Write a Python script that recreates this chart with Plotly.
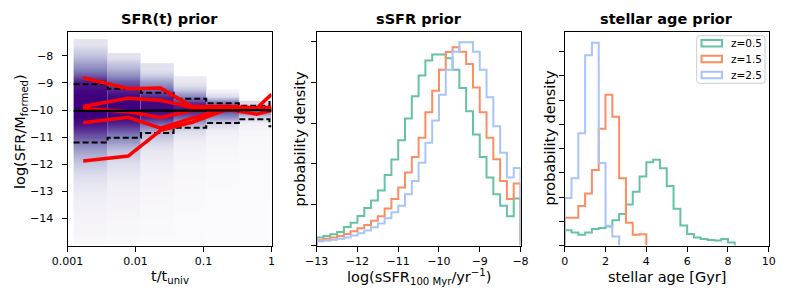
import math
import plotly.graph_objects as go

W, H = 789, 307
FONT = "DejaVu Sans"

# ---------------- Panel 1: SFR(t) prior ----------------
COL_EDGES_LOG = [-2.91, -2.41, -1.92, -1.44, -0.96, -0.48, -0.03, 0.0]
COL_TOPS = [-7.38, -7.9, -8.27, -8.75, -9.24, -9.66, -9.35]
Y_LEVELS = [-15, -14, -13, -12.5, -12, -11.5, -11, -10.75, -10.5, -10.25,
            -10, -9.75, -9.5, -9.25, -9, -8.5, -8, -7.5]
DENS_C1 = [0.04, 0.07, 0.13, 0.21, 0.32, 0.48, 0.7, 0.84, 0.94, 1.0, 1.0, 1.0, 1.0, 0.97, 0.9, 0.6, 0.36, 0.19]
DENS_C2 = [0.03, 0.05, 0.09, 0.14, 0.22, 0.35, 0.56, 0.73, 0.88, 0.98, 1.0, 1.0, 0.97, 0.88, 0.72, 0.42, 0.2, 0.1]
DENS_C3 = [0.02, 0.03, 0.05, 0.07, 0.11, 0.17, 0.3, 0.45, 0.68, 0.9, 0.98, 0.98, 0.88, 0.7, 0.48, 0.2, 0.08, 0.0]
DENS_C4 = [0.015, 0.02, 0.03, 0.04, 0.05, 0.08, 0.14, 0.25, 0.44, 0.72, 0.92, 0.88, 0.6, 0.34, 0.15, 0.05, 0.0, 0.0]
DENS_C5 = [0.01, 0.015, 0.02, 0.025, 0.03, 0.045, 0.07, 0.12, 0.25, 0.55, 0.8, 0.65, 0.25, 0.08, 0.0, 0.0, 0.0, 0.0]
DENS_C6 = [0.01, 0.01, 0.015, 0.015, 0.02, 0.025, 0.035, 0.05, 0.1, 0.3, 0.65, 0.25, 0.0, 0.0, 0.0, 0.0, 0.0, 0.0]
DENS_C7 = [0.01, 0.01, 0.015, 0.02, 0.02, 0.03, 0.04, 0.06, 0.12, 0.35, 0.6, 0.35, 0.12, 0.0, 0.0, 0.0, 0.0, 0.0]
DENSITY = [DENS_C1, DENS_C2, DENS_C3, DENS_C4, DENS_C5, DENS_C6, DENS_C7]

UPPER_Q = [-9.05, -9.21, -9.36, -9.58, -9.75, -9.84, -9.64]
LOWER_Q = [-11.2, -11.02, -10.85, -10.65, -10.48, -10.34, -10.6]
MEDIAN = [-10.03, -10.03, -10.02, -10.02, -10.01, -10.0, -10.02]

RED_T = [0.0017, 0.0078, 0.0234, 0.068, 0.2, 0.6, 1.0]
RED_A = [-8.81, -9.21, -9.19, -9.87, -9.87, -9.92, -9.9]
RED_B = [-9.87, -9.56, -9.64, -9.90, -9.88, -9.94, -9.96]
RED_C = [-9.94, -10.06, -10.27, -10.02, -9.87, -9.96, -10.0]
RED_D = [-10.47, -10.27, -10.67, -10.30, -9.96, -10.15, -10.02]
RED_E = [-11.88, -11.70, -10.75, -10.45, -10.02, -9.94, -9.42]
RED_LINES = [RED_A, RED_B, RED_C, RED_D, RED_E]

P1_YTICKS = [-14, -13, -12, -11, -10, -9, -8]
P1_XTICKS = [0.001, 0.01, 0.1, 1]
P1_XTICKTEXT = ["0.001", "0.01", "0.1", "1"]

# ---------------- Panel 2: sSFR prior ----------------
SSFR_MIN, SSFR_MAX, SSFR_NBINS = -13.0, -8.0, 30
SSFR_Z05 = [0.0195, 0.0236, 0.0276, 0.0333, 0.0455, 0.0561, 0.0724, 0.0919, 0.1106, 0.135,
            0.173, 0.211, 0.2585, 0.3114, 0.3659, 0.417, 0.4537, 0.4683, 0.4683, 0.4593,
            0.4309, 0.3862, 0.3293, 0.2724, 0.2171, 0.1667, 0.126, 0.0976, 0.0715, 0.1154]
SSFR_Z15 = [0.013, 0.0163, 0.0195, 0.0236, 0.0285, 0.035, 0.0423, 0.0504, 0.061, 0.0715,
            0.091, 0.1138, 0.1423, 0.1789, 0.2171, 0.2642, 0.3268, 0.3797, 0.4309, 0.4748,
            0.4862, 0.4756, 0.4455, 0.3878, 0.3268, 0.2642, 0.2114, 0.1585, 0.1138, 0.152]
SSFR_Z25 = [0.0106, 0.0122, 0.0138, 0.0163, 0.0195, 0.0244, 0.0301, 0.0366, 0.0447, 0.0537,
            0.0667, 0.0813, 0.0976, 0.126, 0.1585, 0.2033, 0.252, 0.3065, 0.3699, 0.4309,
            0.4756, 0.4984, 0.4984, 0.4756, 0.4309, 0.3634, 0.2927, 0.2276, 0.1667, 0.1902]
P2_XTICKS = [-13, -12, -11, -10, -9, -8]

# ---------------- Panel 3: stellar age prior ----------------
AGE_BIN_WIDTH = 1.0 / 3.0
AGE_Z05 = [0.063, 0.054, 0.044, 0.054, 0.068, 0.072, 0.078, 0.104, 0.13, 0.169, 0.222, 0.285,
           0.343, 0.354, 0.319, 0.245, 0.152, 0.083, 0.047, 0.033, 0.027, 0.023, 0.021, 0.027, 0.012]
AGE_Z15 = [0.114, 0.114, 0.163, 0.215, 0.312, 0.482, 0.622, 0.531, 0.278, 0.094, 0.044, 0.046]
AGE_Z25 = [0.196, 0.278, 0.463, 0.785, 0.837, 0.340, 0.082, 0.037]
P3_XTICKS = [0, 2, 4, 6, 8, 10]

SERIES_NAMES = ["z=0.5", "z=1.5", "z=2.5"]
SERIES_COLORS = ["#66c2a5", "#fc8d62", "#a8c4f8"]

# ---------------- layout geometry (pixels) ----------------
PANEL_X = [(67.5, 271.5), (316.7, 520.5), (564.7, 768.8)]
PANEL_TOP, PANEL_BOT = 31.5, 245.5


def px_x(p):
    return p / W


def px_y(p):
    return 1 - p / H


def minus(v):
    return f"{v:g}".replace("-", "\u2212")


fig = go.Figure()

# heatmap columns (one trace per time bin so that columns keep sharp edges)
for i in range(len(COL_TOPS)):
    left = 10 ** COL_EDGES_LOG[i]
    right = 10 ** COL_EDGES_LOG[i + 1]
    top = COL_TOPS[i]
    dens = DENSITY[i]
    idx = [k for k, lv in enumerate(Y_LEVELS)
           if k == 0 or (Y_LEVELS[k - 1] + lv) / 2 < top]
    lv_in = [Y_LEVELS[k] for k in idx]
    yedges = [Y_LEVELS[0]] + [(lv_in[j] + lv_in[j + 1]) / 2 for j in range(len(lv_in) - 1)] + [top]
    z = [[dens[k], dens[k]] for k in idx]
    fig.add_trace(go.Heatmap(
        x=[left, math.sqrt(left * right), right], y=yedges, z=z,
        zmin=0, zmax=1, colorscale="Purples", showscale=False, zsmooth="best",
        hoverinfo="skip", xaxis="x", yaxis="y"))

step_x = [10 ** e for e in COL_EDGES_LOG]
for vals in (UPPER_Q, LOWER_Q):
    fig.add_trace(go.Scatter(x=step_x, y=vals + [vals[-1]], mode="lines", line_shape="hv",
                             line=dict(color="black", width=2, dash="6px,3px"),
                             showlegend=False, hoverinfo="skip", xaxis="x", yaxis="y"))
for line in RED_LINES:
    fig.add_trace(go.Scatter(x=RED_T, y=line, mode="lines",
                             line=dict(color="#ff0000", width=3.5),
                             showlegend=False, hoverinfo="skip", xaxis="x", yaxis="y"))
fig.add_trace(go.Scatter(x=step_x, y=MEDIAN + [MEDIAN[-1]], mode="lines", line_shape="hv",
                         line=dict(color="black", width=2.2),
                         showlegend=False, hoverinfo="skip", xaxis="x", yaxis="y"))


def step_outline(edges, heights):
    n = len(heights)
    xs = [edges[0]] + edges[:n] + [edges[n]]
    ys = [0] + list(heights) + [0]
    return xs, ys


ssfr_edges = [SSFR_MIN + k * (SSFR_MAX - SSFR_MIN) / SSFR_NBINS for k in range(SSFR_NBINS + 1)]
for vals, col, name in zip([SSFR_Z05, SSFR_Z15, SSFR_Z25], SERIES_COLORS, SERIES_NAMES):
    xs, ys = step_outline(ssfr_edges, vals)
    fig.add_trace(go.Scatter(x=xs, y=ys, mode="lines", line_shape="hv", name=name,
                             line=dict(color=col, width=2), showlegend=False,
                             hoverinfo="skip", xaxis="x2", yaxis="y2"))

for vals, col, name in zip([AGE_Z05, AGE_Z15, AGE_Z25], SERIES_COLORS, SERIES_NAMES):
    edges = [k * AGE_BIN_WIDTH for k in range(len(vals) + 1)]
    xs, ys = step_outline(edges, vals)
    fig.add_trace(go.Scatter(x=xs, y=ys, mode="lines", line_shape="hv", name=name,
                             line=dict(color=col, width=2), showlegend=False,
                             hoverinfo="skip", xaxis="x3", yaxis="y3"))

axis_common = dict(showline=True, linecolor="black", linewidth=1, mirror=True,
                   ticks="outside", ticklen=5, tickwidth=1, tickcolor="black",
                   showgrid=False, zeroline=False, automargin=False,
                   tickfont=dict(family=FONT, size=11, color="black"))

ydom = [px_y(PANEL_BOT), px_y(PANEL_TOP)]
layout = dict(
    width=W, height=H, autosize=False,
    margin=dict(l=0, r=0, t=0, b=0, pad=0),
    paper_bgcolor="white", plot_bgcolor="white",
    showlegend=False,
    font=dict(family=FONT, size=11, color="black"),
    xaxis=dict(axis_common, domain=[px_x(PANEL_X[0][0]), px_x(PANEL_X[0][1])], anchor="y",
               type="log", range=[-3, 0], tickvals=P1_XTICKS, ticktext=P1_XTICKTEXT),
    yaxis=dict(axis_common, domain=ydom, anchor="x", range=[-15, -7.1],
               tickvals=P1_YTICKS, ticktext=[minus(v) for v in P1_YTICKS], ticklabelstandoff=6),
    xaxis2=dict(axis_common, domain=[px_x(PANEL_X[1][0]), px_x(PANEL_X[1][1])], anchor="y2",
                range=[SSFR_MIN, SSFR_MAX], tickvals=P2_XTICKS, ticktext=[minus(v) for v in P2_XTICKS]),
    yaxis2=dict(axis_common, domain=ydom, anchor="x2", range=[0, 0.525],
                tickvals=[0, 0.1, 0.2, 0.3, 0.4, 0.5], showticklabels=False),
    xaxis3=dict(axis_common, domain=[px_x(PANEL_X[2][0]), px_x(PANEL_X[2][1])], anchor="y3",
                range=[0, 10], tickvals=P3_XTICKS, ticktext=[str(v) for v in P3_XTICKS]),
    yaxis3=dict(axis_common, domain=ydom, anchor="x3", range=[0, 0.883],
                tickvals=[0, 0.1, 0.2, 0.3, 0.4, 0.5, 0.6, 0.7, 0.8], showticklabels=False),
)
fig.update_layout(**layout)

ann = []
titles = ["SFR(t) prior", "sSFR prior", "stellar age prior"]
xlabels = ["t/t<sub>univ</sub>", "log(sSFR<sub>100 Myr</sub>/yr<sup>\u22121</sup>)", "stellar age [Gyr]"]
ylabels = [("log(SFR/M<sub>formed</sub>)", 21, 132), ("probability density", 299, 138.5),
           ("probability density", 549, 137.5)]
for (x0, x1), t, xl in zip(PANEL_X, titles, xlabels):
    cx = (x0 + x1) / 2
    ann.append(dict(text=f"<b>{t}</b>", x=px_x(cx), y=px_y(18.5), xref="paper", yref="paper",
                    xanchor="center", yanchor="middle", showarrow=False,
                    font=dict(family=FONT, size=14.5, color="black")))
    ann.append(dict(text=xl, x=px_x(cx), y=px_y(277), xref="paper", yref="paper",
                    xanchor="center", yanchor="middle", showarrow=False,
                    font=dict(family=FONT, size=14.5, color="black")))
for txt, x, y in ylabels:
    ann.append(dict(text=txt, x=px_x(x), y=px_y(y), xref="paper", yref="paper",
                    xanchor="center", yanchor="middle", showarrow=False, textangle=-90,
                    font=dict(family=FONT, size=14.5, color="black")))

# legend (drawn manually to mimic matplotlib's outlined patches)
LX0, LX1, LY0, LY1, R = 696.7, 765.0, 35.7, 83.3, 3.0
x0, x1 = px_x(LX0), px_x(LX1)
y0, y1 = px_y(LY1), px_y(LY0)
rx, ry = R / W, R / H
path = (f"M {x0+rx},{y0} L {x1-rx},{y0} Q {x1},{y0} {x1},{y0+ry} L {x1},{y1-ry} "
        f"Q {x1},{y1} {x1-rx},{y1} L {x0+rx},{y1} Q {x0},{y1} {x0},{y1-ry} L {x0},{y0+ry} "
        f"Q {x0},{y0} {x0+rx},{y0} Z")
shapes = [dict(type="path", path=path, xref="paper", yref="paper",
               line=dict(color="#cccccc", width=1), fillcolor="rgba(255,255,255,0.8)")]
for name, col, cy in zip(SERIES_NAMES, SERIES_COLORS, [43.3, 59.0, 75.0]):
    shapes.append(dict(type="rect", xref="paper", yref="paper",
                       x0=px_x(701.5), x1=px_x(722), y0=px_y(cy + 3.3), y1=px_y(cy - 3.3),
                       line=dict(color=col, width=2), fillcolor="rgba(0,0,0,0)"))
    ann.append(dict(text=name, x=px_x(729), y=px_y(cy), xref="paper", yref="paper",
                    xanchor="left", yanchor="middle", showarrow=False,
                    font=dict(family=FONT, size=10.5, color="black")))

fig.update_layout(annotations=ann, shapes=shapes)
fig.write_html("out.html", config={"displayModeBar": False, "staticPlot": True},
               post_script="document.body.style.margin='0px';document.body.style.overflow='hidden';")
